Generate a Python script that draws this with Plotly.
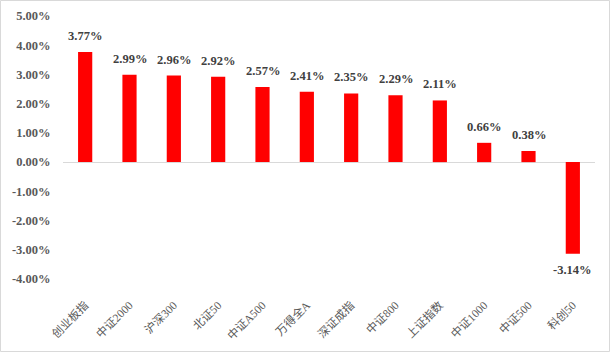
import plotly.graph_objects as go

categories = ["创业板指", "中证2000", "沪深300", "北证50", "中证A500", "万得全A",
              "深证成指", "中证800", "上证指数", "中证1000", "中证500", "科创50"]
values = [3.77, 2.99, 2.96, 2.92, 2.57, 2.41, 2.35, 2.29, 2.11, 0.66, 0.38, -3.14]
y_ticks = [5, 4, 3, 2, 1, 0, -1, -2, -3, -4]
y_tick_labels = ["%.2f%%" % v for v in y_ticks]

W, H = 610, 352
ML, MR, MT, MB = 63, 15, 16, 73
PW, PH = W - ML - MR, H - MT - MB

fig = go.Figure()
fig.add_trace(go.Bar(x=categories, y=values, marker_color="#FF0000",
                     marker_line_width=0, width=0.32))

for c, v in zip(categories, values):
    fig.add_annotation(x=c, y=v, text="%.2f%%" % v, showarrow=False,
                       yanchor="bottom" if v >= 0 else "top",
                       yshift=7 if v >= 0 else -7,
                       font=dict(family="Liberation Serif", size=12.5, color="#404040",
                                 weight="bold"))

# border around the whole chart
fig.add_shape(type="rect", xref="paper", yref="paper",
              x0=(-ML + 0.5) / PW, x1=(W - ML - 0.5) / PW,
              y0=(-MB + 0.5) / PH, y1=(H - MB - 0.5) / PH,
              line=dict(color="#D9D9D9", width=1), fillcolor="rgba(0,0,0,0)", layer="below")

fig.update_layout(
    width=W, height=H,
    margin=dict(l=ML, r=MR, t=MT, b=MB, autoexpand=False),
    paper_bgcolor="white", plot_bgcolor="white",
    showlegend=False,
    xaxis=dict(showgrid=False, showline=False, tickangle=-45, automargin=False,
               ticks="outside", ticklen=14, tickcolor="rgba(0,0,0,0)",
               tickfont=dict(family="Liberation Serif, Noto Sans CJK SC", size=11.5, color="#595959")),
    yaxis=dict(range=[-4, 5], showgrid=False, showline=False, automargin=False,
               zeroline=True, zerolinecolor="#D9D9D9", zerolinewidth=1,
               tickvals=y_ticks, ticktext=y_tick_labels,
               ticks="outside", ticklen=9, tickcolor="rgba(0,0,0,0)",
               tickfont=dict(family="Liberation Serif", size=12.5, color="#595959", weight="bold")),
)

fig.write_html("out.html")
